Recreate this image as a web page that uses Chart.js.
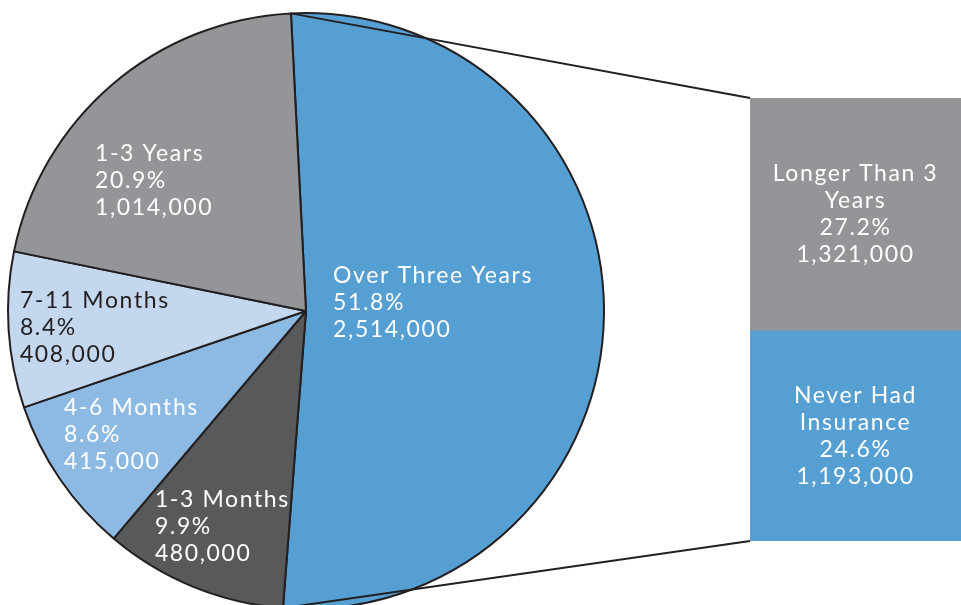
<!DOCTYPE html>
<html>
<head>
<meta charset="utf-8">
<script src="https://cdn.jsdelivr.net/npm/chart.js@4.4.0/dist/chart.umd.min.js"></script>
<style>
    body { margin: 0; background: #fff; }
    #wrap { position: relative; width: 961px; height: 605px; overflow: hidden; }
    #wrap canvas { position: absolute; left: 0; top: 0; }
</style>
</head>
<body>
<div id="wrap">
    <canvas id="pieCanvas" width="961" height="605"></canvas>
    <canvas id="barCanvas" width="961" height="605"></canvas>
</div>
<script>
// 未参保时长分布（饼图）
const pieLabels = ['Over Three Years', '1-3 Months', '4-6 Months', '7-11 Months', '1-3 Years'];
const pieValues = [2514000, 480000, 415000, 408000, 1014000];
const piePercents = ['51.8%', '9.9%', '8.6%', '8.4%', '20.9%'];

// 三年以上的拆分（堆积柱）
const barLabels = ['Never Had Insurance', 'Longer Than 3 Years'];
const barValues = [1193000, 1321000];
const barPercents = ['24.6%', '27.2%'];

const pieColors = ['#569fd3', '#58595b', '#8dbae3', '#c3d7ee', '#939598'];
const pieTextColors = ['#ffffff', '#ffffff', '#ffffff', '#231f20', '#ffffff'];
const barColors = ['#569fd3', '#939598'];
// 文字块位置：相对圆心，按半径比例（左边缘, 垂直中心）
const pieTextPos = [
    [0.091, -0.027],
    [-0.507, 0.725],
    [-0.812, 0.416],
    [-0.960, 0.054],
    [-0.708, -0.436]
];

const FONT = '23px Lato';
const SPACING = '1.6px';
const LINE_H = 27;
const EDGE = '#231f20';

Chart.defaults.font.family = 'Lato';

const fmt = v => v.toLocaleString('en-US');

function drawLines(ctx, lines, x, cy, align) {
    ctx.save();
    ctx.font = FONT;
    ctx.letterSpacing = SPACING;
    ctx.textAlign = align;
    ctx.textBaseline = 'middle';
    const y0 = cy - (lines.length - 1) * LINE_H / 2;
    lines.forEach((t, i) => ctx.fillText(t, x, y0 + i * LINE_H));
    ctx.restore();
}

const pieLabelPlugin = {
    id: 'pieLabels',
    afterDatasetsDraw(chart) {
        const ctx = chart.ctx;
        chart.getDatasetMeta(0).data.forEach((arc, i) => {
            const r = arc.outerRadius;
            const [fx, fy] = pieTextPos[i];
            ctx.fillStyle = pieTextColors[i];
            drawLines(ctx, [pieLabels[i], piePercents[i], fmt(pieValues[i])],
                arc.x + fx * r, arc.y + fy * r, 'left');
        });
    }
};

const pieChart = new Chart(document.getElementById('pieCanvas').getContext('2d'), {
    type: 'pie',
    data: {
        labels: pieLabels,
        datasets: [{
            data: pieValues,
            backgroundColor: pieColors,
            borderColor: EDGE,
            borderWidth: 2,
            radius: 298,
            clip: false
        }]
    },
    options: {
        responsive: false,
        animation: false,
        rotation: -2.9,
        layout: { padding: { top: 17, right: 349, left: 0, bottom: 0 } },
        plugins: {
            legend: { display: false },
            tooltip: { enabled: false }
        }
    },
    plugins: [pieLabelPlugin]
});

// 柱内文字 + 连接线
const barDecoPlugin = {
    id: 'barDeco',
    afterDatasetsDraw(chart) {
        const ctx = chart.ctx;
        const segs = [0, 1].map(i => chart.getDatasetMeta(i).data[0]);
        const wrapLines = [['Never Had', 'Insurance'], ['Longer Than 3', 'Years']];
        segs.forEach((bar, i) => {
            ctx.fillStyle = '#ffffff';
            drawLines(ctx, [...wrapLines[i], barPercents[i], fmt(barValues[i])],
                bar.x, (bar.y + bar.base) / 2, 'center');
        });

        const arc = pieChart.getDatasetMeta(0).data[0];
        const r = arc.outerRadius;
        const left = segs[1].x - segs[1].width / 2;
        ctx.save();
        ctx.strokeStyle = EDGE;
        ctx.lineWidth = 2;
        ctx.beginPath();
        ctx.moveTo(arc.x + r * Math.cos(arc.startAngle), arc.y + r * Math.sin(arc.startAngle));
        ctx.lineTo(left, segs[1].y);
        ctx.moveTo(arc.x + r * Math.cos(arc.endAngle), arc.y + r * Math.sin(arc.endAngle));
        ctx.lineTo(left, segs[0].base);
        ctx.stroke();
        ctx.restore();
    }
};

const barChart = new Chart(document.getElementById('barCanvas').getContext('2d'), {
    type: 'bar',
    data: {
        labels: [''],
        datasets: barLabels.map((lab, i) => ({
            label: lab,
            data: [barValues[i]],
            backgroundColor: barColors[i],
            borderWidth: 0,
            barPercentage: 1,
            categoryPercentage: 1
        }))
    },
    options: {
        responsive: false,
        animation: false,
        layout: { padding: { top: 98, right: 0, left: 750, bottom: 64 } },
        scales: {
            x: { stacked: true, display: false },
            y: { stacked: true, display: false, min: 0, max: barValues[0] + barValues[1] }
        },
        plugins: {
            legend: { display: false },
            tooltip: { enabled: false }
        }
    },
    plugins: [barDecoPlugin]
});
</script>
</body>
</html>
